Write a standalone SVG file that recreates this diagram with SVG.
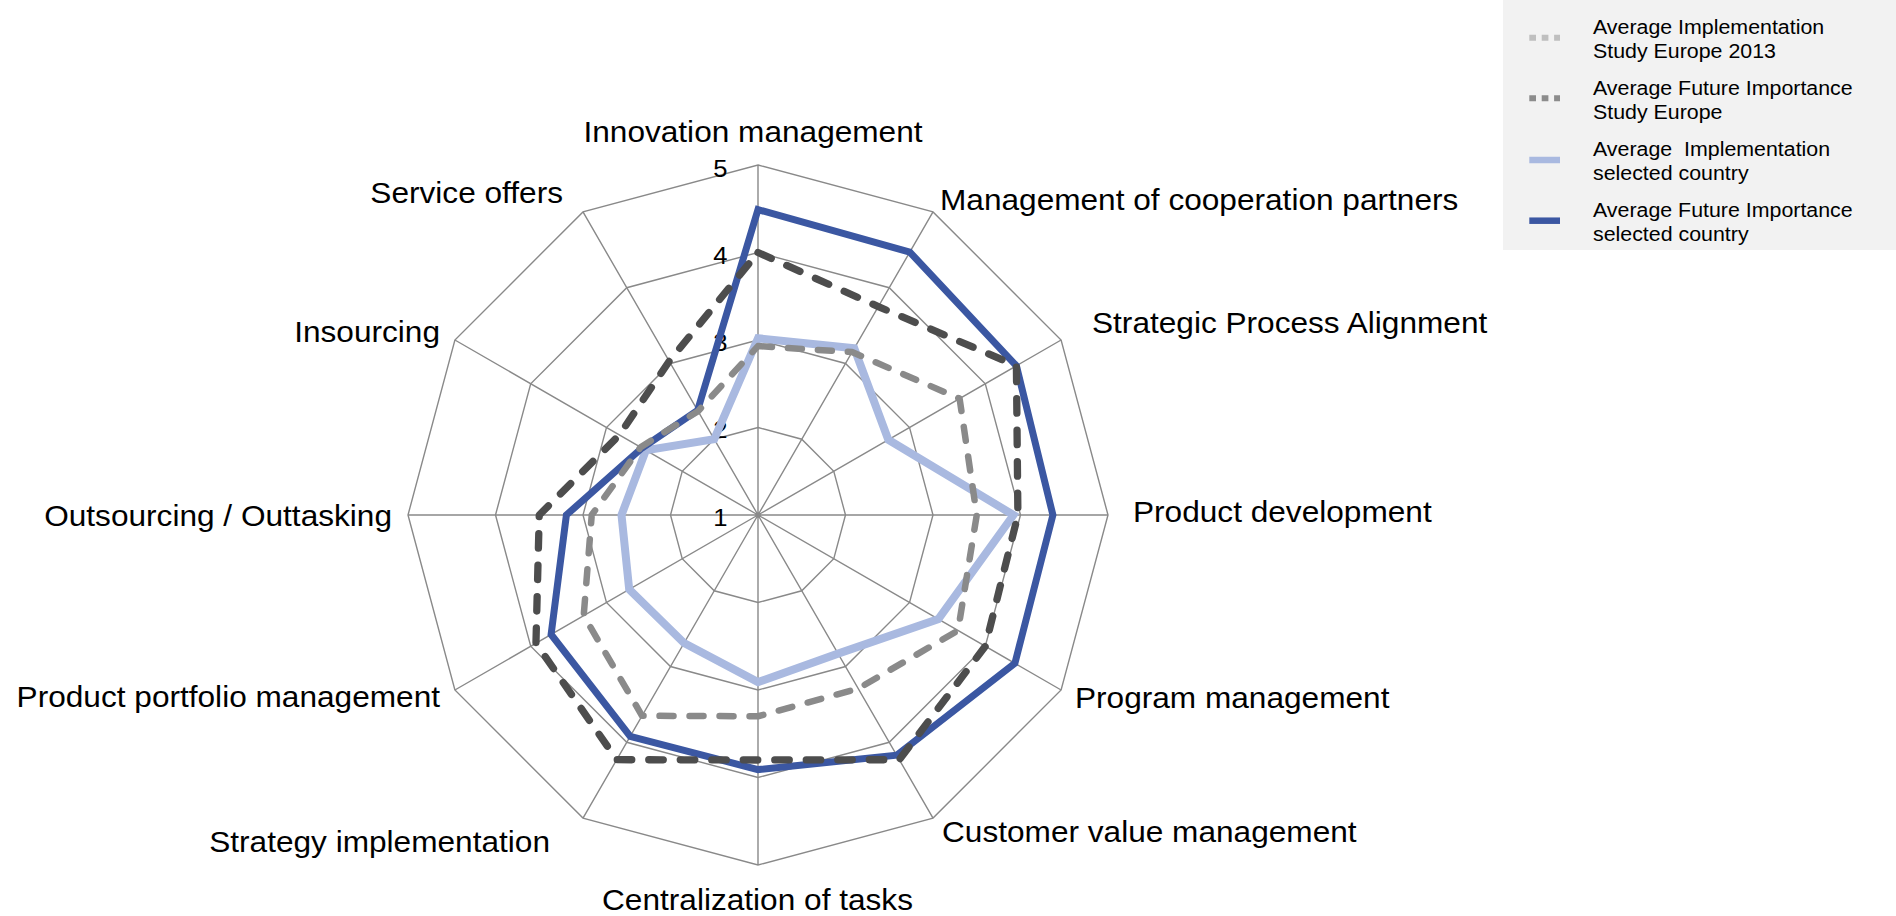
<svg xmlns="http://www.w3.org/2000/svg" width="1896" height="916" viewBox="0 0 1896 916">
<style>
.ring{fill:none;stroke:#898989;stroke-width:1.4}
.lbl{font-family:"Liberation Sans",Arial,sans-serif;font-size:29px;fill:#000}
.tick{font-family:"Liberation Sans",Arial,sans-serif;font-size:23.5px;fill:#000}
.leg{font-family:"Liberation Sans",Arial,sans-serif;font-size:19.6px;fill:#000}
.s-impl{fill:none;stroke:#A9B9E0;stroke-width:8;stroke-linejoin:miter}
.s-fut{fill:none;stroke:#3B57A2;stroke-width:7;stroke-linejoin:miter}
.s-eimpl{fill:none;stroke:#8A8A8A;stroke-width:6.5;stroke-dasharray:14 16;stroke-linecap:round;stroke-linejoin:round}
.s-efut{fill:none;stroke:#4D4D4D;stroke-width:7.3;stroke-dasharray:14.5 17;stroke-linecap:round;stroke-linejoin:round}
</style>
<rect width="1896" height="916" fill="#fff"/>
<g id="grid">
<polygon class="ring" points="758,165 933,211.9 1061.1,340 1108,515 1061.1,690 933,818.1 758,865 583,818.1 454.9,690 408,515 454.9,340 583,211.9"/>
<polygon class="ring" points="758,252.5 889.25,287.7 985.3,383.75 1020.5,515 985.3,646.25 889.25,742.3 758,777.5 626.75,742.3 530.7,646.25 495.5,515 530.7,383.75 626.75,287.7"/>
<polygon class="ring" points="758,340 845.5,363.45 909.55,427.5 933,515 909.55,602.5 845.5,666.55 758,690 670.5,666.55 606.45,602.5 583,515 606.45,427.5 670.5,363.45"/>
<polygon class="ring" points="758,427.5 801.75,439.22 833.78,471.25 845.5,515 833.78,558.75 801.75,590.78 758,602.5 714.25,590.78 682.22,558.75 670.5,515 682.22,471.25 714.25,439.22"/>
<path class="ring" d="M758,515L758,165M758,515L933,211.9M758,515L1061.1,340M758,515L1108,515M758,515L1061.1,690M758,515L933,818.1M758,515L758,865M758,515L583,818.1M758,515L454.9,690M758,515L408,515M758,515L454.9,340M758,515L583,211.9"/>
</g>
<g id="ticks" class="tick" text-anchor="end">
<text transform="translate(727.5,176.5) scale(1.09,1)">5</text>
<text transform="translate(727.5,263.5) scale(1.09,1)">4</text>
<text transform="translate(727.5,350.5) scale(1.09,1)">3</text>
<text transform="translate(727.5,437.5) scale(1.09,1)">2</text>
<text transform="translate(727.5,525.5) scale(1.09,1)">1</text>
</g>
<g id="series">
<polygon id="impl-country" class="s-impl" points="758,338.25 854.25,348.3 888.3,439.75 1013.5,515 938.35,619.1 838.05,653.65 758,682.1 684.05,643.1 629.2,589.4 621.5,515 645.85,450.25 714.25,439.2"/>
<polygon id="future-country" class="s-fut" points="758,209.6 909.8,252.1 1016.4,365.8 1052.9,515 1014.9,663.3 896.7,755.2 758,769.6 630.25,736.3 551.1,634.45 566.4,515 642,448 697.6,410.4"/>
<polygon id="impl-europe" class="s-eimpl" points="758,346.1 852.05,352.1 959.6,398.6 976.75,515 958.05,630.5 858.2,688.55 758,716.25 642.05,715.8 583.7,615.6 591.75,515 640.6,447.2 698.05,411.2"/>
<polygon id="future-europe" class="s-efut" points="758,252.5 878.3,306.6 1016.4,365.8 1017.9,515 985.3,646.25 899.3,759.7 758,760 616.7,759.7 535.95,643.2 539.25,515 619.35,434.95 669.2,361.2"/>
</g>
<g id="labels" class="lbl">
<text transform="translate(753,142) scale(1.09,1)" text-anchor="middle">Innovation management</text>
<text transform="translate(940,210) scale(1.09,1)">Management of cooperation partners</text>
<text transform="translate(1092,333) scale(1.09,1)">Strategic Process Alignment</text>
<text transform="translate(1133,522) scale(1.09,1)">Product development</text>
<text transform="translate(1075,708) scale(1.09,1)">Program management</text>
<text transform="translate(942,842) scale(1.09,1)">Customer value management</text>
<text transform="translate(757.5,910) scale(1.09,1)" text-anchor="middle">Centralization of tasks</text>
<text transform="translate(550,852) scale(1.09,1)" text-anchor="end">Strategy implementation</text>
<text transform="translate(440,707) scale(1.09,1)" text-anchor="end">Product portfolio management</text>
<text transform="translate(392,526) scale(1.09,1)" text-anchor="end">Outsourcing / Outtasking</text>
<text transform="translate(440,342) scale(1.09,1)" text-anchor="end">Insourcing</text>
<text transform="translate(563,203) scale(1.09,1)" text-anchor="end">Service offers</text>
</g>
<g id="legend">
<rect x="1503" y="0" width="393" height="250" fill="#F2F2F2"/>
<line x1="1529.3" y1="37.7" x2="1560" y2="37.7" stroke="#BFBFBF" stroke-width="6" stroke-dasharray="6.7 5.7"/>
<line x1="1529.3" y1="98.3" x2="1560" y2="98.3" stroke="#8C8C8C" stroke-width="6" stroke-dasharray="6.7 5.7"/>
<line x1="1529.3" y1="160" x2="1560" y2="160" stroke="#A9B9E0" stroke-width="6.5"/>
<line x1="1529.3" y1="220.7" x2="1560" y2="220.7" stroke="#3B57A2" stroke-width="6.5"/>
<g class="leg">
<text transform="translate(1593,33.5) scale(1.09,1)">Average Implementation</text>
<text transform="translate(1593,57.5) scale(1.09,1)">Study Europe 2013</text>
<text transform="translate(1593,94.5) scale(1.09,1)">Average Future Importance</text>
<text transform="translate(1593,118.5) scale(1.09,1)">Study Europe</text>
<text transform="translate(1593,155.5) scale(1.09,1)" xml:space="preserve">Average  Implementation</text>
<text transform="translate(1593,179.5) scale(1.09,1)">selected country</text>
<text transform="translate(1593,216.5) scale(1.09,1)">Average Future Importance</text>
<text transform="translate(1593,240.5) scale(1.09,1)">selected country</text>
</g>
</g>
</svg>
